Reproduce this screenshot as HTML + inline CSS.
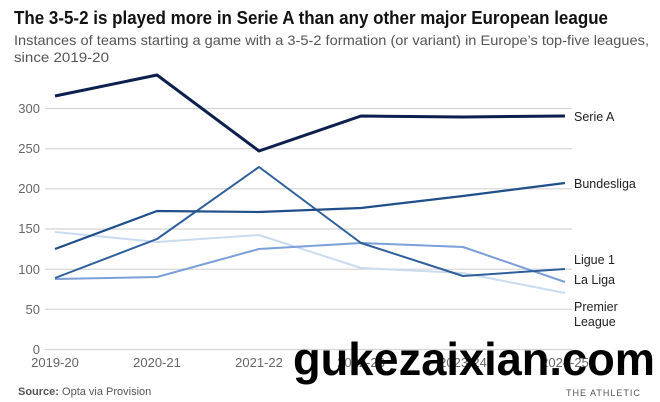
<!DOCTYPE html>
<html><head><meta charset="utf-8"><style>
html,body{margin:0;padding:0;background:#fff;}
svg{display:block;font-family:"Liberation Sans",sans-serif;}
</style></head><body>
<svg width="660" height="402" viewBox="0 0 660 402">
<rect width="660" height="402" fill="#fff"/>
<text x="14" y="24" font-size="18" font-weight="bold" fill="#121212" textLength="594" lengthAdjust="spacingAndGlyphs">The 3-5-2 is played more in Serie A than any other major European league</text>
<text x="14" y="45" font-size="14" fill="#555" textLength="635" lengthAdjust="spacingAndGlyphs">Instances of teams starting a game with a 3-5-2 formation (or variant) in Europe’s top-five leagues,</text>
<text x="14" y="62" font-size="14" fill="#555" textLength="95" lengthAdjust="spacingAndGlyphs">since 2019-20</text>
<g stroke="#d4d4d4" stroke-width="1.2">
<line x1="45" x2="572" y1="108.5" y2="108.5"/>
<line x1="45" x2="572" y1="148.7" y2="148.7"/>
<line x1="45" x2="572" y1="188.8" y2="188.8"/>
<line x1="45" x2="572" y1="229" y2="229"/>
<line x1="45" x2="572" y1="269.2" y2="269.2"/>
<line x1="45" x2="572" y1="309.3" y2="309.3"/>
<line x1="45" x2="572" y1="349.5" y2="349.5"/>
</g>
<g font-size="13" fill="#666" text-anchor="end">
<text x="40" y="113">300</text><text x="40" y="153">250</text><text x="40" y="193">200</text>
<text x="40" y="233">150</text><text x="40" y="274">100</text><text x="40" y="314">50</text><text x="40" y="354">0</text>
</g>
<g font-size="13" fill="#666" text-anchor="middle">
<text x="55" y="367">2019-20</text><text x="157" y="367">2020-21</text><text x="259" y="367">2021-22</text>
<text x="361" y="367">2022-23</text><text x="463" y="367">2023-24</text><text x="565" y="367">2024-25</text>
</g>
<g fill="none" stroke-linejoin="round">
<polyline stroke="#c9dcef" stroke-width="2" points="55,232 157,242 259,235 361,268 463,273 565,293"/>
<polyline stroke="#7b9fd8" stroke-width="2" points="55,279 157,277 259,249 361,243 463,247 565,282"/>
<polyline stroke="#2e5f9c" stroke-width="2" points="55,278 157,239 259,167 361,243 463,276 565,269"/>
<polyline stroke="#1f4f8a" stroke-width="2.2" points="55,249 157,211 259,212 361,208 463,196 565,183"/>
<polyline stroke="#0c1f4e" stroke-width="3" points="55,96 157,75 259,151 361,116 463,117 565,116"/>
</g>
<g font-size="12.5" fill="#222">
<text x="574" y="121">Serie A</text>
<text x="574" y="188">Bundesliga</text>
<text x="574" y="264">Ligue 1</text>
<text x="574" y="284">La Liga</text>
<text x="574" y="311">Premier</text>
<text x="574" y="326">League</text>
</g>
<text x="18" y="395" font-size="11" fill="#555"><tspan font-weight="bold">Source:</tspan> Opta via Provision</text>
<text x="566" y="396" font-size="9" fill="#555" letter-spacing="1">THE ATHLETIC</text>
<text x="293" y="375" font-size="46" font-weight="bold" fill="#000" textLength="362" lengthAdjust="spacingAndGlyphs">gukezaixian.com</text>
</svg>
</body></html>
